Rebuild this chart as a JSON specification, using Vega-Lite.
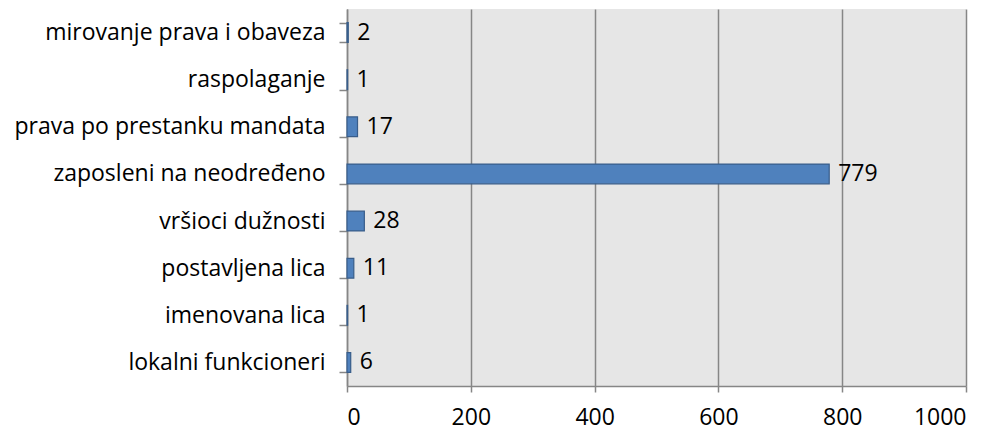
{
  "$schema": "https://vega.github.io/schema/vega-lite/v6.json",
  "width": 619,
  "height": 377,
  "autosize": {"type": "none"},
  "padding": {"left": 347, "top": 9, "right": 28, "bottom": 44},
  "background": "white",
  "config": {
    "font": "Open Sans",
    "view": {"fill": "#e6e6e6", "stroke": null}
  },
  "data": {
    "values": [
      {"kategorija": "mirovanje prava i obaveza", "broj": 2},
      {"kategorija": "raspolaganje", "broj": 1},
      {"kategorija": "prava po prestanku mandata", "broj": 17},
      {"kategorija": "zaposleni na neodređeno", "broj": 779},
      {"kategorija": "vršioci dužnosti", "broj": 28},
      {"kategorija": "postavljena lica ", "broj": 11},
      {"kategorija": "imenovana lica ", "broj": 1},
      {"kategorija": "lokalni funkcioneri", "broj": 6}
    ]
  },
  "encoding": {
    "y": {
      "field": "kategorija",
      "type": "nominal",
      "sort": null,
      "scale": {"paddingInner": 0.58, "paddingOuter": 0.29},
      "axis": {
        "title": null,
        "labelFont": "Open Sans",
        "labelFontSize": 23,
        "labelColor": "#000000",
        "labelPadding": 14,
        "labelLimit": 0,
        "tickBand": "extent",
        "tickSize": 8,
        "tickColor": "#868686",
        "domainColor": "#868686",
        "domainWidth": 1.5,
        "tickWidth": 1.5
      }
    },
    "x": {
      "field": "broj",
      "type": "quantitative",
      "scale": {"domain": [0, 1000], "nice": false},
      "axis": {
        "title": null,
        "values": [0, 200, 400, 600, 800, 1000],
        "format": "d",
        "labelFont": "Open Sans",
        "labelFontSize": 23,
        "labelColor": "#000000",
        "labelPadding": 14,
        "tickSize": 6,
        "tickColor": "#868686",
        "tickWidth": 1.5,
        "domainColor": "#868686",
        "domainWidth": 1.5,
        "grid": true,
        "gridColor": "#868686",
        "gridWidth": 1.5
      }
    }
  },
  "layer": [
    {
      "mark": {"type": "bar", "color": "#4f81bd", "stroke": "#385d8a", "strokeWidth": 1.2}
    },
    {
      "mark": {"type": "text", "align": "left", "baseline": "middle", "dx": 9, "font": "Open Sans", "fontSize": 23, "color": "#000000"},
      "encoding": {"text": {"field": "broj", "type": "quantitative"}}
    }
  ]
}
